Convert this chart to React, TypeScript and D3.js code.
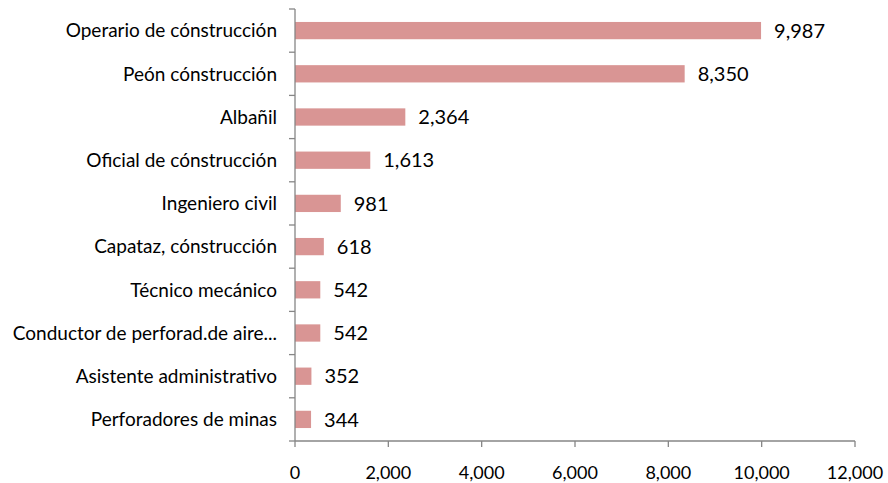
import React, { useEffect, useRef } from "react";
import * as d3 from "d3";

const categories = [
  "Operario de cónstrucción",
  "Peón cónstrucción",
  "Albañil",
  "Oficial de cónstrucción",
  "Ingeniero civil",
  "Capataz, cónstrucción",
  "Técnico mecánico",
  "Conductor de perforad.de aire...",
  "Asistente administrativo",
  "Perforadores de minas",
];
const values = [9987, 8350, 2364, 1613, 981, 618, 542, 542, 352, 344];
const xTicks = [0, 2000, 4000, 6000, 8000, 10000, 12000];

const W = 888;
const H = 483;
const FONT = "Lato, 'Open Sans', sans-serif";

export default function App() {
  const svgRef = useRef<SVGSVGElement | null>(null);

  useEffect(() => {
    const svg = d3.select(svgRef.current);
    svg.selectAll("*").remove();

    const margin = { top: 9, right: 33, bottom: 42, left: 295 };
    const innerW = W - margin.left - margin.right;
    const innerH = H - margin.top - margin.bottom;

    const g = svg.append("g").attr("transform", `translate(${margin.left},${margin.top})`);

    const x = d3.scaleLinear().domain([0, 12000]).range([0, innerW]);
    const y = d3.scaleBand<string>().domain(categories).range([0, innerH]).paddingInner(0.6).paddingOuter(0.3);
    const band = innerH / categories.length;

    // bars
    g.selectAll("rect.bar")
      .data(categories)
      .join("rect")
      .attr("class", "bar")
      .attr("x", 0)
      .attr("y", (d) => y(d)!)
      .attr("width", (d, i) => x(values[i]))
      .attr("height", y.bandwidth())
      .attr("fill", "#D99594");

    // value labels
    g.selectAll("text.val")
      .data(categories)
      .join("text")
      .attr("class", "val")
      .attr("x", (d, i) => x(values[i]) + 13)
      .attr("y", (d) => y(d)! + y.bandwidth() / 2)
      .attr("dy", "0.36em")
      .style("font-family", FONT)
      .style("font-size", "20px")
      .style("fill", "#000")
      .text((d, i) => d3.format(",")(values[i]));

    // y axis
    const yAxis = g.append("g");
    yAxis.append("line")
      .attr("x1", 0).attr("x2", 0).attr("y1", 0).attr("y2", innerH)
      .attr("stroke", "#868686").attr("stroke-width", 1.3);
    d3.range(categories.length + 1).forEach((i) => {
      yAxis.append("line")
        .attr("x1", -6).attr("x2", 0)
        .attr("y1", i * band).attr("y2", i * band)
        .attr("stroke", "#868686").attr("stroke-width", 1.3);
    });
    yAxis.selectAll("text")
      .data(categories)
      .join("text")
      .attr("x", -18)
      .attr("y", (d, i) => i * band + band / 2)
      .attr("dy", "0.36em")
      .attr("text-anchor", "end")
      .style("font-family", FONT)
      .style("font-size", "19px")
      .style("fill", "#000")
      .text((d) => d);

    // x axis
    const xAxis = g.append("g").attr("transform", `translate(0,${innerH})`);
    xAxis.append("line")
      .attr("x1", 0).attr("x2", innerW)
      .attr("stroke", "#868686").attr("stroke-width", 1.3);
    xAxis.selectAll("line.tick")
      .data(xTicks)
      .join("line")
      .attr("class", "tick")
      .attr("x1", (d) => x(d)).attr("x2", (d) => x(d))
      .attr("y1", 0).attr("y2", 6)
      .attr("stroke", "#868686").attr("stroke-width", 1.3);
    xAxis.selectAll("text")
      .data(xTicks)
      .join("text")
      .attr("x", (d) => x(d))
      .attr("y", 32)
      .attr("dy", "0.36em")
      .attr("text-anchor", "middle")
      .style("font-family", FONT)
      .style("font-size", "18px")
      .style("fill", "#000")
      .text((d) => d3.format(",")(d));
  }, []);

  return (
    <div style={{ position: "fixed", left: 0, top: 0, width: W, height: H, background: "#fff" }}>
      <svg ref={svgRef} width={W} height={H} />
    </div>
  );
}
